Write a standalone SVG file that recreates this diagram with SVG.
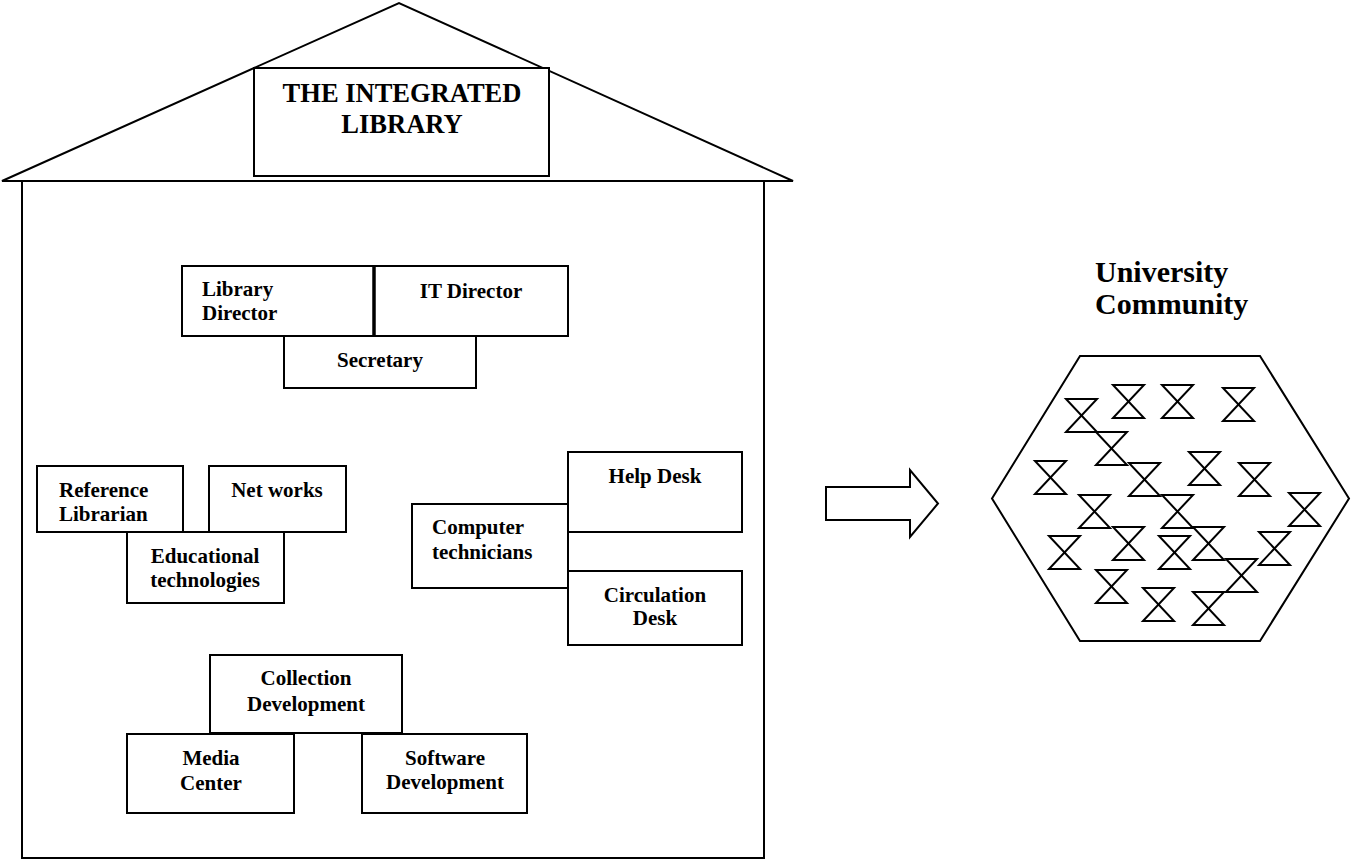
<svg xmlns="http://www.w3.org/2000/svg" width="1351" height="861" viewBox="0 0 1351 861">
<style>
.ln{fill:none;stroke:#000;stroke-width:2}
.bx{fill:#fff;stroke:#000;stroke-width:2}
.t{font-family:"Liberation Serif","Times New Roman",serif;font-weight:bold;font-size:21px;fill:#000}
.c{text-anchor:middle}
.ttl{font-size:26.5px}
.big{font-size:30px}
</style>
<defs>
<path id="hg" d="M0,0 H31 L0,33 H31 Z" fill="none" stroke="#000" stroke-width="2" stroke-linejoin="miter"/>
</defs>
<rect width="1351" height="861" fill="#fff"/>
<g id="house">
<polygon class="ln" points="2,181 399,3 793,181"/>
<path class="ln" d="M22,181 V858 H764 V181"/>
</g>
<g id="title">
<rect class="bx" x="254" y="68" width="295" height="108"/>
<text class="t c ttl" x="402" y="102">THE INTEGRATED</text>
<text class="t c ttl" x="402" y="133">LIBRARY</text>
</g>
<g id="library-director">
<rect class="bx" x="182" y="266" width="192" height="70"/>
<text class="t" x="202" y="296">Library</text>
<text class="t" x="202" y="320">Director</text>
</g>
<g id="it-director">
<rect class="bx" x="374" y="266" width="194" height="70"/>
<line x1="374" y1="266" x2="374" y2="336" stroke="#000" stroke-width="3.5"/>
<text class="t c" x="471" y="298">IT Director</text>
</g>
<g id="secretary">
<rect class="bx" x="284" y="336" width="192" height="52"/>
<text class="t c" x="380" y="367">Secretary</text>
</g>
<g id="reference-librarian">
<rect class="bx" x="37" y="466" width="146" height="66"/>
<text class="t" x="59" y="497">Reference</text>
<text class="t" x="59" y="521">Librarian</text>
</g>
<g id="net-works">
<rect class="bx" x="209" y="466" width="137" height="66"/>
<text class="t c" x="277" y="497">Net works</text>
</g>
<g id="educational-technologies">
<rect class="bx" x="127" y="532" width="157" height="71"/>
<text class="t c" x="205" y="563">Educational</text>
<text class="t c" x="205" y="587">technologies</text>
</g>
<g id="computer-technicians">
<rect class="bx" x="412" y="504" width="156" height="84"/>
<text class="t" x="432" y="534">Computer</text>
<text class="t" x="432" y="559">technicians</text>
</g>
<g id="help-desk">
<rect class="bx" x="568" y="452" width="174" height="80"/>
<text class="t c" x="655" y="483">Help Desk</text>
</g>
<g id="circulation-desk">
<rect class="bx" x="568" y="571" width="174" height="74"/>
<text class="t c" x="655" y="602">Circulation</text>
<text class="t c" x="655" y="625">Desk</text>
</g>
<g id="collection-development">
<rect class="bx" x="210" y="655" width="192" height="78"/>
<text class="t c" x="306" y="685">Collection</text>
<text class="t c" x="306" y="711">Development</text>
</g>
<g id="media-center">
<rect class="bx" x="127" y="734" width="167" height="79"/>
<text class="t c" x="211" y="765">Media</text>
<text class="t c" x="211" y="790">Center</text>
</g>
<g id="software-development">
<rect class="bx" x="362" y="734" width="165" height="79"/>
<text class="t c" x="445" y="765">Software</text>
<text class="t c" x="445" y="789">Development</text>
</g>
<g id="connectors">
<polygon class="ln" points="826,487 910,487 910,470 938,503.5 910,537 910,520 826,520"/>
</g>
<g id="university-community">
<text class="t big" x="1095" y="282">University</text>
<text class="t big" x="1095" y="314">Community</text>
</g>
<g id="community-hexagon">
<polygon class="ln" points="992,498.5 1080,356 1260,356 1349,498.5 1260,641 1080,641"/>
<use href="#hg" x="1066" y="399"/>
<use href="#hg" x="1113" y="385"/>
<use href="#hg" x="1162" y="385"/>
<use href="#hg" x="1223" y="388"/>
<use href="#hg" x="1096" y="432"/>
<use href="#hg" x="1035" y="461"/>
<use href="#hg" x="1129" y="463"/>
<use href="#hg" x="1189" y="452"/>
<use href="#hg" x="1239" y="463"/>
<use href="#hg" x="1079" y="495"/>
<use href="#hg" x="1162" y="495"/>
<use href="#hg" x="1289" y="493"/>
<use href="#hg" x="1049" y="536"/>
<use href="#hg" x="1113" y="527"/>
<use href="#hg" x="1159" y="536"/>
<use href="#hg" x="1193" y="527"/>
<use href="#hg" x="1259" y="532"/>
<use href="#hg" x="1226" y="559"/>
<use href="#hg" x="1096" y="570"/>
<use href="#hg" x="1143" y="588"/>
<use href="#hg" x="1193" y="592"/>
</g>
</svg>
